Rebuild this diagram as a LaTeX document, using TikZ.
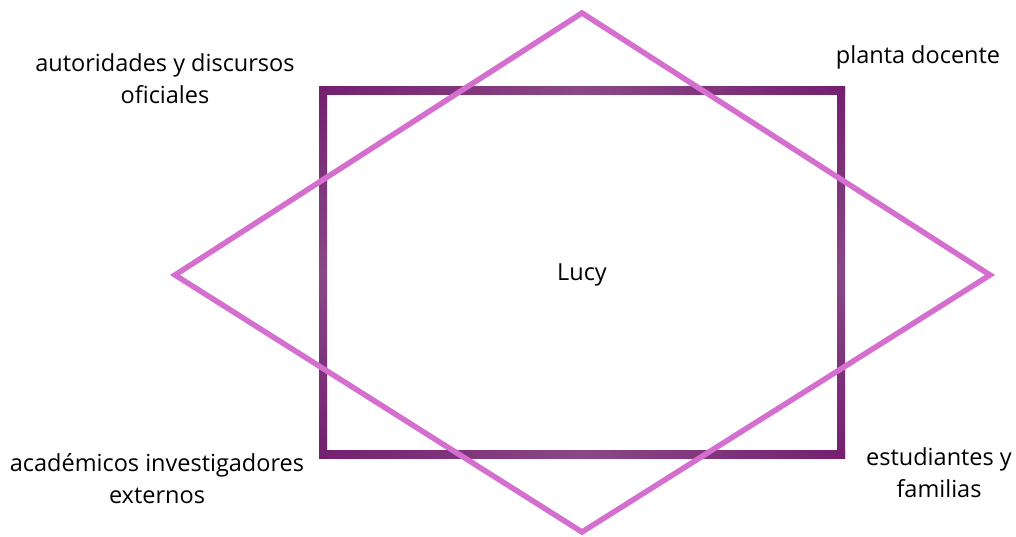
\documentclass[tikz,border=0pt]{standalone}
\usepackage{fontspec}
\setmainfont{Open Sans}
\usetikzlibrary{positioning}

\definecolor{frameDark}{HTML}{74206F}
\definecolor{frameMid}{HTML}{8A4886}
\definecolor{orchidLine}{HTML}{D56FCF}

\begin{document}
\begin{tikzpicture}[x=1pt, y=-1pt,
  every node/.style={font=\fontsize{23.5}{32}\selectfont, align=center, inner sep=0pt},
  hside/.style={shading=axis, left color=frameDark, right color=frameDark, middle color=frameMid},
  vside/.style={shading=axis, top color=frameDark, bottom color=frameDark, middle color=frameMid},
  rombo/.style={draw=orchidLine, line width=5.5pt, line join=miter}]
  \useasboundingbox (0,0) rectangle (1016,537);
  % marco central
  \shade[hside] (319,87) rectangle (845,95);
  \shade[hside] (319,450) rectangle (845,458);
  \shade[vside] (319,87) rectangle (327,458);
  \shade[vside] (837,87) rectangle (845,458);
  % rombo
  \coordinate (top) at (582,13);
  \coordinate (right) at (990,275);
  \coordinate (bottom) at (582,532);
  \coordinate (left) at (175,275);
  \draw[rombo] (top) -- (right) -- (bottom) -- (left) -- cycle;
  % textos
  \node (lucy) at (582,275) {Lucy};
  \node (autoridades) at (165,79) {autoridades y discursos\\oficiales};
  \node (planta) at (918,57) {planta docente};
  \node (academicos) at (157,479) {académicos investigadores\\externos};
  \node (estudiantes) at (939,473) {estudiantes y\\familias};
\end{tikzpicture}
\end{document}
